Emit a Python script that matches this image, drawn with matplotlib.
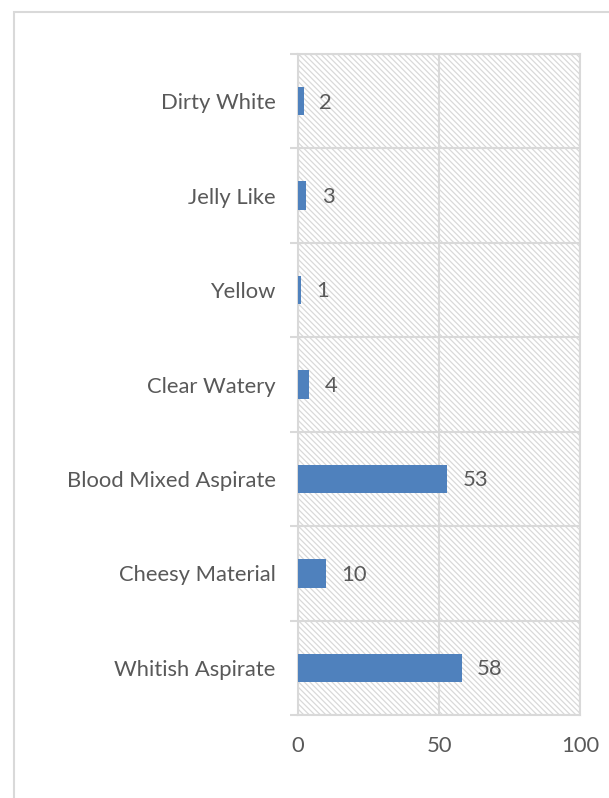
import matplotlib.pyplot as plt
import matplotlib.patches as mpatches
import numpy as np

categories = ["Whitish Aspirate", "Cheesy Material", "Blood Mixed Aspirate",
              "Clear Watery", "Yellow", "Jelly Like", "Dirty White"]
values = [58, 10, 53, 4, 1, 3, 2]
xticks = [0, 50, 100]

plt.rcParams['font.family'] = ['Lato', 'DejaVu Sans']
plt.rcParams['hatch.color'] = '#d9d9d9'
plt.rcParams['hatch.linewidth'] = 0.9

grid_c = '#d9d9d9'
text_c = '#595959'
fsize = 15.8

fig = plt.figure(figsize=(6.09, 7.98), dpi=100)
# outer chart border (open on the right and bottom, as in the crop)
fig.patches.append(mpatches.Rectangle((14 / 609, -0.1), 1.0, 1 - 12 / 798 + 0.1,
                                      transform=fig.transFigure, fill=False,
                                      edgecolor=grid_c, linewidth=1.5))

ax = fig.add_axes([298 / 609, 1 - 715 / 798, (580 - 298) / 609, (715 - 54) / 798])
ax.add_patch(mpatches.Rectangle((0, 0), 1, 1, transform=ax.transAxes,
                                facecolor='white', edgecolor='#d9d9d9',
                                hatch='\\' * 6, linewidth=0, zorder=0))

y = np.arange(len(categories))
ax.barh(y, values, height=0.3, color='#4f81bd', zorder=3)
for yi, v in zip(y, values):
    ax.annotate(str(v), (v, yi), xytext=(11, -1), textcoords='offset points',
                va='center', ha='left', fontsize=fsize, color=text_c)

ax.set_xlim(0, 100)
ax.set_ylim(-0.5, len(categories) - 0.5)
ax.set_xticks(xticks)
ax.set_yticks(y)
ax.set_yticklabels(categories)
ax.set_yticks(np.arange(-0.5, len(categories), 1.0), minor=True)

ax.tick_params(axis='x', length=0, pad=15, labelsize=fsize, labelcolor=text_c)
ax.tick_params(axis='y', which='major', length=0, pad=16, labelsize=fsize,
               labelcolor=text_c)
ax.tick_params(axis='y', which='minor', length=6, width=1.5, color=grid_c)

ax.grid(True, axis='x', color=grid_c, linewidth=1.5, zorder=1)
ax.grid(True, axis='y', which='minor', color=grid_c, linewidth=1.5, zorder=1)
ax.set_axisbelow(True)
for s in ax.spines.values():
    s.set_color(grid_c)
    s.set_linewidth(1.5)

fig.savefig('out.png', dpi=100)
